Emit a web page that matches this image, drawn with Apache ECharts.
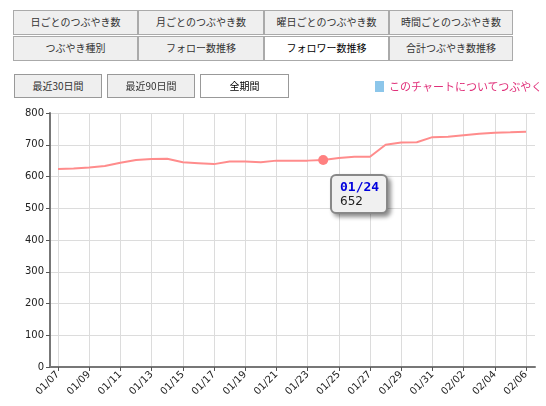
<!DOCTYPE html>
<html>
<head>
<meta charset="utf-8">
<script src="https://cdn.jsdelivr.net/npm/echarts@6/dist/echarts.min.js"></script>
<style>
  body { margin: 0; font-family: "Noto Sans CJK JP", sans-serif; }
  #wrap { position: relative; width: 546px; height: 406px; background: #fff; }
  #chart { position: absolute; left: 0; top: 0; width: 546px; height: 406px; }
  .btn { position: absolute; box-sizing: border-box; border: 1px solid #aaa; background: #efefef;
         font-size: 10px; color: #333; text-align: center; line-height: 22px; height: 25px; white-space: nowrap; }
  .btn.on { background: #fff; color: #000; }
  .btn2 { height: 24px; line-height: 22px; border: 1px solid #999; }
  #tw { position: absolute; left: 375px; top: 78px; font-size: 11px; color: #e0307a; white-space: nowrap; }
  #tw span { display: inline-block; width: 9px; height: 11px; background: #8cc6ea; margin-right: 5px; vertical-align: -1px; }
</style>
</head>
<body>
<div id="wrap">
  <div id="chart"></div>
  <div class="btn" style="left:13px;top:10px;width:125px">日ごとのつぶやき数</div>
  <div class="btn" style="left:138px;top:10px;width:126px">月ごとのつぶやき数</div>
  <div class="btn" style="left:264px;top:10px;width:125px">曜日ごとのつぶやき数</div>
  <div class="btn" style="left:389px;top:10px;width:124px">時間ごとのつぶやき数</div>
  <div class="btn" style="left:13px;top:36px;width:125px">つぶやき種別</div>
  <div class="btn" style="left:138px;top:36px;width:126px">フォロー数推移</div>
  <div class="btn on" style="left:264px;top:36px;width:125px">フォロワー数推移</div>
  <div class="btn" style="left:389px;top:36px;width:124px">合計つぶやき数推移</div>
  <div class="btn btn2" style="left:14px;top:74px;width:88px">最近30日間</div>
  <div class="btn btn2" style="left:107px;top:74px;width:88px">最近90日間</div>
  <div class="btn btn2 on" style="left:200px;top:74px;width:89px">全期間</div>
  <div id="tw"><span></span>このチャートについてつぶやく</div>
</div>
<script>
// 日付とフォロワー数
const dates = ["01/07","01/08","01/09","01/10","01/11","01/12","01/13","01/14","01/15","01/16",
  "01/17","01/18","01/19","01/20","01/21","01/22","01/23","01/24","01/25","01/26",
  "01/27","01/28","01/29","01/30","01/31","02/01","02/02","02/03","02/04","02/05","02/06"];
const followers = [624, 625, 628, 633, 643, 652, 655, 656, 645, 642,
  639, 647, 647, 645, 650, 650, 650, 652, 658, 662,
  662, 700, 707, 708, 724, 725, 730, 735, 738, 739, 741];
const tipIndex = 17;

const chart = echarts.init(document.getElementById("chart"));
chart.setOption({
  animation: false,
  grid: [
    { left: 58, right: 20, top: 113, bottom: 39 },
    { left: 50, right: 11, top: 113, bottom: 39 }
  ],
  tooltip: {
    trigger: "axis",
    axisPointer: { type: "none" },
    alwaysShowContent: true,
    position: [330, 174],
    padding: [4, 8],
    backgroundColor: "#f0f0f0",
    borderColor: "#888",
    borderWidth: 2,
    extraCssText: "border-radius:6px;box-shadow:3px 3px 4px rgba(0,0,0,0.45);width:38px;",
    formatter: function (p) {
      return '<div style="font:bold 13px \'DejaVu Sans Mono\';color:#0000dd;line-height:14px">' + p[0].name +
        '</div><div style="font:12px \'DejaVu Sans\';color:#222;line-height:14px">' + p[0].value + '</div>';
    }
  },
  xAxis: [{
    gridIndex: 0,
    type: "category",
    data: dates,
    boundaryGap: false,
    axisLine: { show: false },
    axisTick: { interval: 1, lineStyle: { color: "#555" }, length: 4 },
    axisLabel: { interval: 1, rotate: 45, color: "#222", fontSize: 10, fontFamily: "DejaVu Sans", margin: 6 },
    splitLine: { show: true, interval: 1, lineStyle: { color: "#dcdcdc" } }
  }, {
    gridIndex: 1,
    type: "value", min: 0, max: 1,
    axisLine: { show: true, onZero: false, lineStyle: { color: "#777", width: 2 } },
    axisTick: { show: false }, axisLabel: { show: false }, splitLine: { show: false }
  }],
  yAxis: [{
    gridIndex: 0,
    type: "value",
    min: 0, max: 800, interval: 100,
    offset: 8,
    axisLine: { show: true, lineStyle: { color: "#777", width: 2 } },
    axisTick: { show: true, length: 4, lineStyle: { color: "#555" } },
    axisLabel: { color: "#222", fontSize: 10, fontFamily: "DejaVu Sans", margin: 6 },
    splitLine: { show: false }
  }, {
    gridIndex: 1,
    type: "value",
    min: 0, max: 800, interval: 100,
    axisLine: { show: false }, axisTick: { show: false }, axisLabel: { show: false },
    splitLine: { lineStyle: { color: "#dcdcdc" } }
  }],
  series: [{
    type: "line",
    xAxisIndex: 0, yAxisIndex: 0,
    data: followers,
    showSymbol: false,
    symbol: "circle",
    symbolSize: 10,
    lineStyle: { color: "#ff8080", width: 2 },
    itemStyle: { color: "#ff8080" },
    emphasis: { scale: false }
  }]
});
chart.dispatchAction({ type: "showTip", seriesIndex: 0, dataIndex: tipIndex });
</script>
</body>
</html>
